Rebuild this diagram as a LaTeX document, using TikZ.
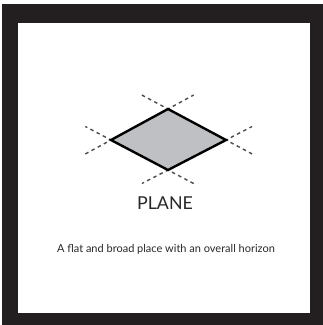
\documentclass[tikz,border=0pt]{standalone}
\usepackage{fontspec}
\setmainfont{Lato}
\usetikzlibrary{calc}
\definecolor{framecol}{RGB}{35,31,32}
\definecolor{planefill}{RGB}{190,192,195}
\definecolor{textcol}{RGB}{40,40,40}
\tikzset{
  planeedge/.style={line width=2.4pt, line join=miter, draw=black, fill=planefill},
  extline/.style={line width=1.4pt, dash pattern=on 3.5pt off 3.5pt, draw=framecol!80},
  label/.style={inner sep=0pt, text=textcol}
}
\begin{document}
\begin{tikzpicture}[x=1pt,y=-1pt]
\useasboundingbox (0,0) rectangle (323,325);
\fill[white] (0,0) rectangle (323,325);
\fill[framecol] (2,4) rectangle (323,325);
\fill[white] (18,23) rectangle (310,313);
% vertices
\coordinate (T) at (168,109);
\coordinate (L) at (111,140);
\coordinate (R) at (226,140);
\coordinate (B) at (168,170);
% dashed extensions
\draw[extline] ($(R)!1.45!(T)$) -- (T) -- ($(L)!1.45!(T)$);
\draw[extline] ($(T)!1.45!(L)$) -- (L) -- ($(B)!1.45!(L)$);
\draw[extline] ($(T)!1.45!(R)$) -- (R) -- ($(B)!1.45!(R)$);
\draw[extline] ($(L)!1.45!(B)$) -- (B) -- ($(R)!1.45!(B)$);
\draw[planeedge] (T) -- (R) -- (B) -- (L) -- cycle;
\node[label, font=\fontsize{17.8}{20}\selectfont] (title) at (165,203) {PLANE};
\node[label, font=\fontsize{11}{13}\selectfont] (caption) at (166,249) {A flat and broad place with an overall horizon};
\end{tikzpicture}
\end{document}
